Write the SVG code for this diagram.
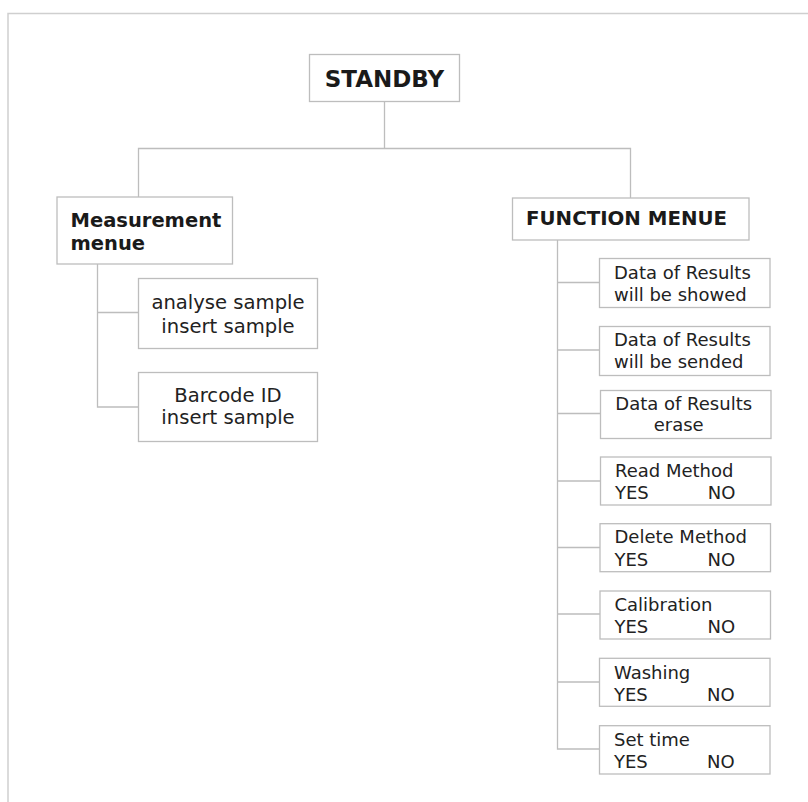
<svg xmlns="http://www.w3.org/2000/svg" width="808" height="802" viewBox="0 0 808 802">
<style>
.box{fill:#fff;stroke:#bdbdbd;stroke-width:1.3}
.ln{fill:none;stroke:#bdbdbd;stroke-width:1.3}
.b{font-family:"DejaVu Sans",Verdana,sans-serif;font-weight:bold;fill:#1a1a1a}
.r{font-family:"DejaVu Sans",Verdana,sans-serif;fill:#222;font-size:18px}
.rl{font-family:"DejaVu Sans",Verdana,sans-serif;fill:#222;font-size:19.6px}
</style>
<rect width="808" height="802" fill="#fff"/>
<path d="M8 802V13.5H808" fill="none" stroke="#cfcfcf" stroke-width="1.5"/>
<g id="connectors" class="ln">
<path d="M384.5 101V148.5"/>
<path d="M138.5 197V148.5H630.5V198"/>
<path d="M97.5 264V407H138.5M97.5 312.5H138.5"/>
<path d="M557.5 240V749H600M557.5 282.5H600M557.5 350H600M557.5 413.5H600M557.5 481H600M557.5 547.5H600M557.5 614H600M557.5 682H600"/>
</g>
<g id="standby"><rect class="box" x="309.5" y="54.5" width="150" height="47"/><text class="b" x="384.5" y="87" font-size="23" text-anchor="middle">STANDBY</text></g>
<g id="measurement"><rect class="box" x="57" y="197" width="175.5" height="67"/><text class="b" x="70.5" y="226.5" font-size="19.5">Measurement</text><text class="b" x="70.5" y="250" font-size="19.5">menue</text></g>
<g id="analyse"><rect class="box" x="138.5" y="278.5" width="179" height="70"/><text class="rl" x="228" y="309.3" text-anchor="middle">analyse sample</text><text class="rl" x="228" y="332.7" text-anchor="middle">insert sample</text></g>
<g id="barcode"><rect class="box" x="138.5" y="372.5" width="179" height="69"/><text class="rl" x="228" y="401.7" text-anchor="middle">Barcode ID</text><text class="rl" x="228" y="424.3" text-anchor="middle">insert sample</text></g>
<g id="function"><rect class="box" x="512.5" y="198" width="236.5" height="42"/><text class="b" x="526" y="225" font-size="19.8">FUNCTION MENUE</text></g>
<g id="showed"><rect class="box" x="599.5" y="258.5" width="170.5" height="49"/><text class="r" x="614" y="279">Data of Results</text><text class="r" x="614" y="301">will be showed</text></g>
<g id="sended"><rect class="box" x="599.5" y="326.5" width="170.5" height="49"/><text class="r" x="614" y="345.7">Data of Results</text><text class="r" x="614" y="368.3">will be sended</text></g>
<g id="erase"><rect class="box" x="600.5" y="390.5" width="170.5" height="48"/><text class="r" x="615.3" y="410">Data of Results</text><text class="r" x="653.7" y="431">erase</text></g>
<g id="read"><rect class="box" x="600.5" y="457" width="170.5" height="48"/><text class="r" x="615" y="476.7">Read Method</text><text class="r" x="615" y="499.3">YES</text><text class="r" x="707.7" y="499.3">NO</text></g>
<g id="delete"><rect class="box" x="600" y="523.7" width="170.5" height="48"/><text class="r" x="614.5" y="543.3">Delete Method</text><text class="r" x="614.5" y="566">YES</text><text class="r" x="707.5" y="566">NO</text></g>
<g id="calibration"><rect class="box" x="600" y="591" width="170.5" height="48"/><text class="r" x="614.5" y="610.7">Calibration</text><text class="r" x="614.5" y="632.7">YES</text><text class="r" x="707.5" y="632.7">NO</text></g>
<g id="washing"><rect class="box" x="599.5" y="658.3" width="170.5" height="48"/><text class="r" x="614" y="679.3">Washing</text><text class="r" x="614" y="701">YES</text><text class="r" x="707" y="701">NO</text></g>
<g id="settime"><rect class="box" x="599.5" y="725.7" width="170.5" height="48.3"/><text class="r" x="614" y="746">Set time</text><text class="r" x="614" y="767.7">YES</text><text class="r" x="707" y="767.7">NO</text></g>
</svg>
